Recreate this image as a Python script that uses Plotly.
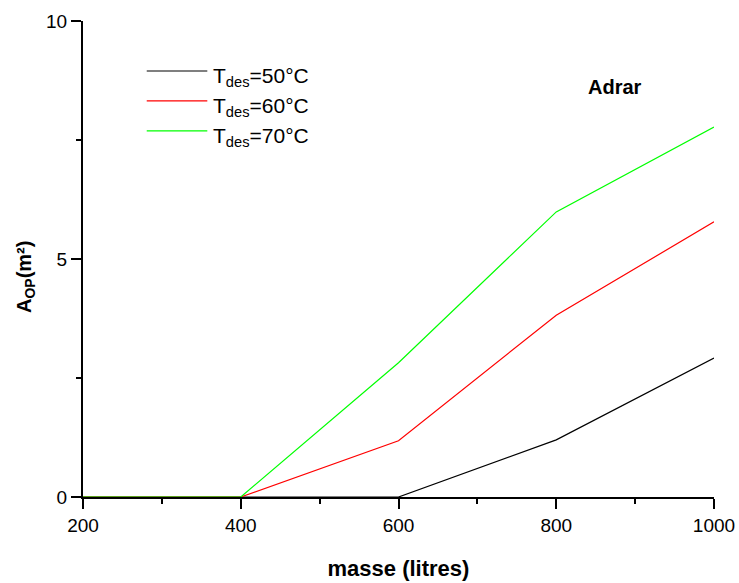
import plotly.graph_objects as go

# Storage mass (litres) on the x axis
masse = [200, 400, 600, 800, 1000]

# Required collector area A_OP (m²) for each desalination temperature
a_op_50 = [0, 0, 0, 1.20, 2.92]
a_op_60 = [0, 0, 1.18, 3.82, 5.78]
a_op_70 = [0, 0, 2.82, 5.99, 7.77]

series_names = ["T<sub>des</sub>=50°C", "T<sub>des</sub>=60°C", "T<sub>des</sub>=70°C"]
series_values = [a_op_50, a_op_60, a_op_70]
series_colors = ["#000000", "#ff0000", "#00ff00"]

FONT = "Liberation Sans, Arial, sans-serif"

fig = go.Figure()
for name, vals, col in zip(series_names, series_values, series_colors):
    fig.add_trace(go.Scatter(
        x=masse, y=vals, mode="lines", name=name,
        line=dict(color=col, width=1.2),
        showlegend=False,
    ))

# Hand-drawn legend block: short sample line followed by the label
leg_x0, leg_x1 = 0.101, 0.197
leg_y = [0.895, 0.832, 0.769]
for name, col, yy in zip(series_names, series_colors, leg_y):
    fig.add_shape(type="line", xref="paper", yref="paper",
                  x0=leg_x0, x1=leg_x1, y0=yy, y1=yy,
                  line=dict(color=col, width=1.2))
    fig.add_annotation(xref="paper", yref="paper", x=leg_x1 + 0.006, y=yy - 0.012,
                       text=name, showarrow=False, xanchor="left", yanchor="middle",
                       font=dict(family=FONT, size=21, color="black"))

fig.add_annotation(xref="paper", yref="paper", x=0.843, y=0.862,
                   text="<b>Adrar</b>", showarrow=False, xanchor="center", yanchor="middle",
                   font=dict(family=FONT, size=20, color="black"))

# y-axis title placed slightly below the axis centre
fig.add_annotation(xref="paper", yref="paper", x=-0.092, y=0.462,
                   text="<b>A<sub>OP</sub>(m²)</b>", showarrow=False, textangle=-90,
                   xanchor="center", yanchor="middle",
                   font=dict(family=FONT, size=20, color="black"))

axis_common = dict(
    showline=True, linecolor="black", linewidth=2,
    ticks="outside", ticklen=10, tickwidth=2, tickcolor="black",
    showgrid=False, zeroline=False, mirror=False, automargin=False,
    tickfont=dict(family=FONT, size=19, color="black"),
)

fig.update_xaxes(
    range=[200, 1000], tickvals=[200, 400, 600, 800, 1000],
    minor=dict(tickvals=[300, 500, 700, 900], ticks="outside", ticklen=5,
               tickwidth=2, tickcolor="black"),
    title=dict(text="<b>masse (litres)</b>", standoff=26,
               font=dict(family=FONT, size=22, color="black")),
    **axis_common,
)
fig.update_yaxes(
    range=[0, 10], tickvals=[0, 5, 10],
    minor=dict(tickvals=[2.5, 7.5], ticks="outside", ticklen=5,
               tickwidth=2, tickcolor="black"),
    **axis_common,
)

fig.update_layout(
    width=739, height=583,
    margin=dict(l=83, r=25, t=21, b=86),
    plot_bgcolor="white", paper_bgcolor="white",
    font=dict(family=FONT, color="black"),
)

fig.write_html("out.html")
